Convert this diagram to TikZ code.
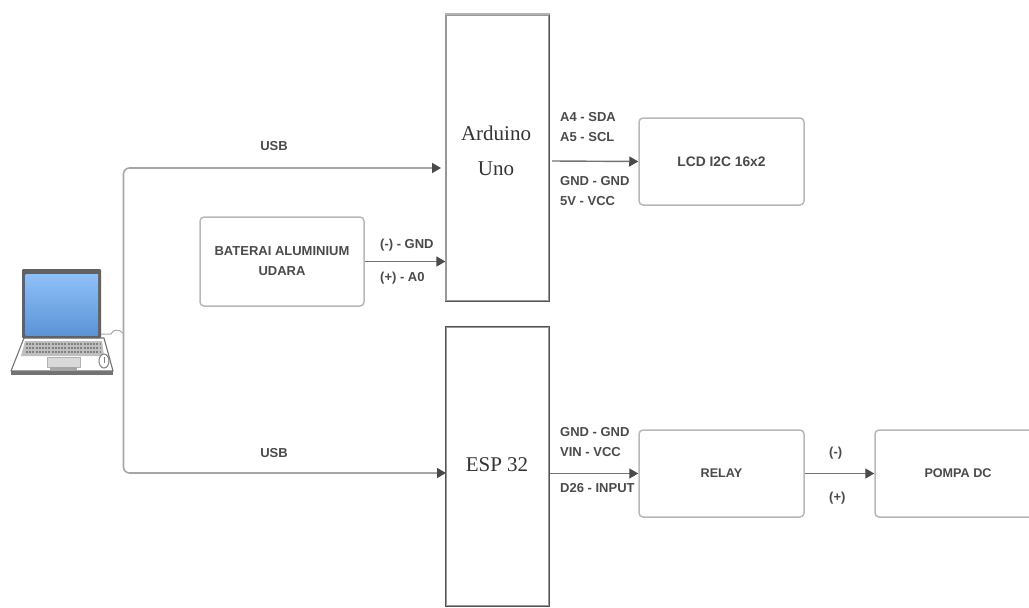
\documentclass[tikz,border=0pt]{standalone}
\usepackage{fontspec}
\setmainfont{Liberation Sans}
\newfontfamily\serifface{Liberation Serif}
\usetikzlibrary{arrows.meta}
\definecolor{ink}{HTML}{4A4A4A}
\definecolor{edge}{HTML}{B8B8B8}
\definecolor{screentop}{HTML}{8FC0F8}
\definecolor{screenbot}{HTML}{5C94D6}
\tikzset{
  x=1pt,y=-1pt,
  softbox/.style={draw=edge,line width=1.5pt,rounded corners=4pt,fill=white,align=center,
    text=ink,font=\bfseries\fontsize{12.6}{20}\selectfont,inner sep=0pt},
  mcu/.style={draw=black!40,line width=1.2pt,fill=white,inner sep=0pt,minimum width=103pt},
  mcutext/.style={font=\serifface\fontsize{21}{34.5}\selectfont,text=ink!70!black,align=center,inner sep=0pt},
  darkedge/.style={draw=black!68,line width=1.6pt},
  conn/.style={draw=black!55,line width=1.4pt,-{Triangle[length=9pt,width=10pt,color=ink,fill=ink]}},
  trunk/.style={conn,draw=black!35,rounded corners=6pt,line width=1.6pt},
  lab/.style={text=ink,font=\bfseries\fontsize{13}{20}\selectfont,inner sep=0pt,align=left,anchor=west},
  usblab/.style={text=ink,font=\bfseries\fontsize{13}{14}\selectfont,inner sep=0pt},
}
\begin{document}
\begin{tikzpicture}
\useasboundingbox (0,0) rectangle (1029,608);
\clip (0,0) rectangle (1029,608);
% boxes
\node[mcu,minimum height=286pt] (uno) at (497.5,158) {};
\node[mcu,minimum height=279pt] (esp) at (497.5,466.5) {};
\draw[darkedge] (uno.north east) -- (uno.south east) -- (uno.south west);
\draw[draw=black!30,line width=2pt] (uno.north west) -- (uno.north east);
\draw[darkedge] (esp.north west) -- (esp.north east) -- (esp.south east) -- (esp.south west) -- cycle;
\node[mcutext] (unotxt) at (496,151) {Arduino\\Uno};
\node[mcutext] (esptxt) at (497,465) {ESP 32};
\node[softbox,minimum width=165pt,minimum height=87pt,font=\bfseries\fontsize{13.8}{20}\selectfont] (lcd) at (721.5,161.5) {LCD I2C 16x2};
\node[softbox,minimum width=165pt,minimum height=87pt] (relay) at (721.5,473.5) {RELAY};
\node[softbox,minimum width=166pt,minimum height=87pt] (pompa) at (958,473.5) {POMPA DC};
\node[softbox,minimum width=164pt,minimum height=89pt,font=\bfseries\fontsize{13}{20}\selectfont] (bat) at (282,261.5) {BATERAI ALUMINIUM\\UDARA};
% laptop
\begin{scope}
  \fill[white,draw=black!55,line width=1.1pt,line join=round] (24,338) -- (104,338) -- (113,371) -- (11,371) -- cycle;
  \fill[black!55] (11,370.5) rectangle (113,374.5);
  \fill[black!62,rounded corners=1pt] (22,269) rectangle (101,338);
  \shade[top color=screentop,bottom color=screenbot] (25.5,274) rectangle (98,335);
  \fill[black!25] (25,341) -- (102,341) -- (104,356) -- (21,356) -- cycle;
  \foreach \ypos in {344,348,352}{\draw[black!50,line width=1.3pt,dash pattern=on 2pt off 1.2pt] (26,\ypos) -- (100,\ypos);}
  \fill[black!15,draw=black!30] (47,357) rectangle (80,367);
  \fill[black!35] (50,367) rectangle (77,371);
  \draw[black!50,line width=1pt,fill=white] (104,361) ellipse (5pt and 7pt);
  \draw[black!50,line width=.8pt] (104,357) -- (104,363);
  \draw[black!35,line width=1pt] (101,334) -- (111,334) .. controls (113,329) and (119,329) .. (123,333);
\end{scope}
\coordinate (port) at (123.5,333);
\coordinate (unoin) at (441,168);
\coordinate (espin) at (446,473);
\coordinate (unoout) at (552,161);
% connectors
\draw[trunk] (port) |- (unoin);
\draw[trunk] (port) |- (espin);
\draw[conn] (bat.east) -- (bat.east -| uno.west);
\draw[conn] (unoout) -- (lcd.west);
\draw[conn] (esp.east |- relay.west) -- (relay.west);
\draw[conn] (relay.east) -- (pompa.west);
% labels
\node[usblab] (u1) at (274,146) {USB};
\node[usblab] (u2) at (274,453) {USB};
\node[lab] (l1) at (380,245) {(-) - GND};
\node[lab] (l2) at (380,278.5) {(+) - A0};
\node[lab] (l3) at (560,127) {A4 - SDA\\A5 - SCL};
\node[lab] (l4) at (560,191) {GND - GND\\5V - VCC};
\node[lab] (l5) at (560,442.5) {GND - GND\\VIN - VCC};
\node[lab] (l6) at (560,488) {D26 - INPUT};
\node[lab] (l7) at (829,453.5) {(-)};
\node[lab] (l8) at (829,498.5) {(+)};
\end{tikzpicture}
\end{document}
